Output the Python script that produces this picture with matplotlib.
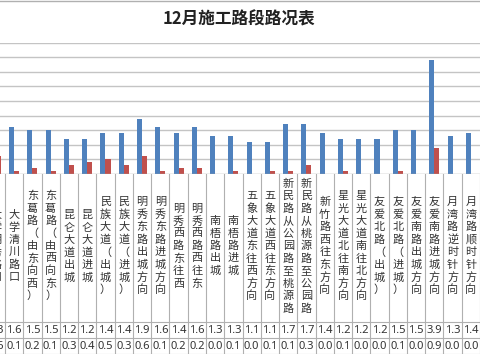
import matplotlib.pyplot as plt
import numpy as np

plt.rcParams['font.family'] = ['Noto Sans CJK SC', 'DejaVu Sans']

# road sections (first one is cut off at the left edge in the source)
roads = ['大学明秀路口', '大学清川路口', '东葛路（由东向西）', '东葛路（由西向东）',
         '昆仑大道出城', '昆仑大道进城', '民族大道（出城）', '民族大道（进城）',
         '明秀东路出城方向', '明秀东路进城方向', '明秀西路东往西', '明秀西路西往东',
         '南梧路出城', '南梧路进城', '五象大道东往西方向', '五象大道西往东方向',
         '新民路从公园路至桃源路', '新民路从桃源路至公园路', '新竹路西往东方向',
         '星光大道北往南方向', '星光大道南往北方向', '友爱北路（出城）', '友爱北路（进城）',
         '友爱南路出城方向', '友爱南路进城方向', '月湾路逆时针方向', '月湾路顺时针方向']
blue_vals = [1.3, 1.6, 1.5, 1.5, 1.2, 1.2, 1.4, 1.4, 1.9, 1.6, 1.4, 1.6, 1.3, 1.3,
             1.1, 1.1, 1.7, 1.7, 1.4, 1.2, 1.2, 1.2, 1.5, 1.5, 3.9, 1.3, 1.4]
red_vals = [0.6, 0.1, 0.2, 0.1, 0.3, 0.4, 0.5, 0.3, 0.6, 0.1, 0.2, 0.2, 0.0, 0.1,
            0.0, 0.1, 0.1, 0.3, 0.0, 0.1, 0.0, 0.0, 0.1, 0.0, 0.9, 0.0, 0.0]

BLUE = '#4F81BD'
RED = '#C0504D'
GRID = '#c4c4c4'
TXT = '#333333'

W, H = 480, 360
fig = plt.figure(figsize=(4.8, 3.6), dpi=100)

xlim = (0.226, 26.5)
x = np.arange(len(roads))

# plot area: baseline at y=174px, top (4.5) at y=42.7px
ax = fig.add_axes([0, 1 - 174 / H, 1, (174 - 42.7) / H])
ax.set_xlim(*xlim)
ax.set_ylim(0, 4.5)
for v in np.arange(0.5, 4.51, 0.5):
    ax.axhline(v, color=GRID, lw=1.0, zorder=0)
ax.axhline(0, color='#a8a8a8', lw=1.0, zorder=3)
bw = 0.275
ax.bar(x - bw / 2, blue_vals, bw, color=BLUE, zorder=2)
ax.bar(x + bw / 2, red_vals, bw, color=RED, zorder=2)
ax.axis('off')

# data table below the plot (pixel units, 0 at baseline)
tb = fig.add_axes([0, 1 - 354 / H, 1, 180 / H])
tb.set_xlim(*xlim)
tb.set_ylim(180, 0)
tb.axis('off')
for k in range(len(roads) + 1):
    tb.plot([k - 0.5, k - 0.5], [0, 180], color='#b0b0b0', lw=0.8)
for yy in [148, 164, 180]:
    tb.axhline(yy, color='#b0b0b0', lw=0.8)

pitch = 12.5
for i, name in enumerate(roads):
    n = len(name)
    for j, ch in enumerate(name):
        yy = 72 + (j - (n - 1) / 2) * pitch
        tb.text(i, yy, ch, ha='center', va='center', fontsize=8, color=TXT)
    tb.text(i, 156.5, f'{blue_vals[i]:.1f}', ha='center', va='center',
            fontsize=8, color=TXT, family=['Noto Sans', 'DejaVu Sans'])
    tb.text(i, 172.5, f'{red_vals[i]:.1f}', ha='center', va='center',
            fontsize=8, color=TXT, family=['Noto Sans', 'DejaVu Sans'])

fig.text(239 / W, 1 - 20 / H, '12月施工路段路况表', ha='center', va='center',
         fontsize=12, fontweight='bold', color='#222222')

# chart border line at top edge
fig.add_artist(plt.Line2D([0, 1], [1 - 0.6 / H, 1 - 0.6 / H], color='#b0b0b0', lw=1))

fig.savefig('out.png', dpi=100)
